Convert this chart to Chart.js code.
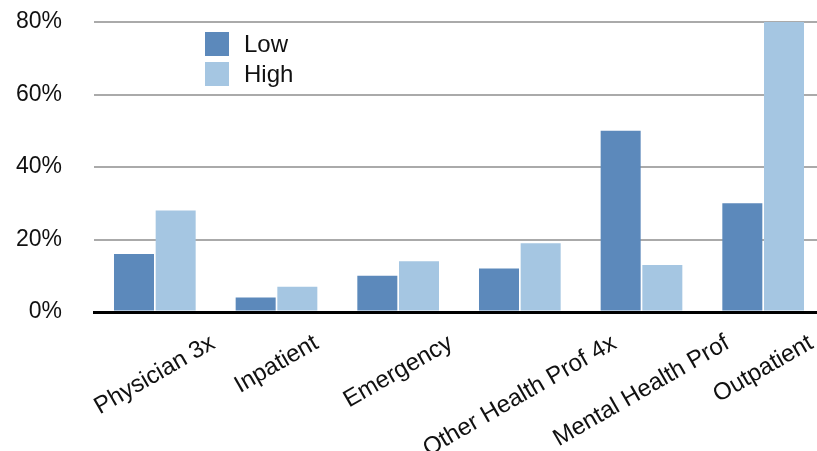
<!DOCTYPE html>
<html>
<head>
<meta charset="utf-8">
<script src="https://cdn.jsdelivr.net/npm/chart.js@4.4.0/dist/chart.umd.min.js"></script>
<style>
    html, body { margin: 0; padding: 0; background: #fff; }
    #chartContainer { width: 817px; height: 451px; }
</style>
</head>
<body>
<div id="chartContainer"><canvas id="usageChart" width="817" height="451"></canvas></div>
<script>
// chart data
const categories = ['Physician 3x', 'Inpatient', 'Emergency', 'Other Health Prof 4x', 'Mental Health Prof', 'Outpatient'];
const seriesNames = ['Low', 'High'];
const lowValues = [16, 4, 10, 12, 50, 30];
const highValues = [28, 7, 14, 19, 13, 80];
const yTickValues = [0, 20, 40, 60, 80];

const fontFamily = '"Liberation Sans", Arial, Helvetica, sans-serif';
Chart.defaults.font.family = fontFamily;
Chart.defaults.color = '#111';

// the category axis runs a little past the right edge of the canvas
const widenXAxis = {
    id: 'widenXAxis',
    afterLayout(chart) {
        const xScale = chart.scales.x;
        xScale.right = xScale.left + 730;
        xScale.width = 730;
        xScale.configure();
    }
};

// legend sits inside the plot, stacked, to the right of the y axis
const insideLegend = {
    id: 'insideLegend',
    afterDraw(chart) {
        const ctx = chart.ctx;
        const area = chart.chartArea;
        const left = area.left + 111;
        const top = area.top + 10;
        ctx.save();
        ctx.font = '24px ' + fontFamily;
        ctx.textBaseline = 'middle';
        chart.data.datasets.forEach((ds, i) => {
            const y = top + i * 30;
            ctx.fillStyle = ds.backgroundColor;
            ctx.fillRect(left, y, 24, 24);
            ctx.fillStyle = '#111';
            ctx.fillText(ds.label, left + 39, y + 13);
        });
        ctx.restore();
    }
};

// category labels, slanted and centred under each group
const slantedLabels = {
    id: 'slantedLabels',
    afterDraw(chart) {
        const ctx = chart.ctx;
        const xScale = chart.scales.x;
        const angle = 30 * Math.PI / 180;
        const size = 24;
        const labelTop = xScale.top + 19;
        ctx.save();
        ctx.font = size + 'px ' + fontFamily;
        ctx.fillStyle = '#111';
        ctx.textAlign = 'center';
        ctx.textBaseline = 'middle';
        chart.data.labels.forEach((label, i) => {
            const w = ctx.measureText(label).width;
            const x = xScale.getPixelForTick(i);
            const y = labelTop + (w * Math.sin(angle) + size * Math.cos(angle)) / 2;
            ctx.save();
            ctx.translate(x, y);
            ctx.rotate(-angle);
            ctx.fillText(label, 0, 0);
            ctx.restore();
        });
        ctx.restore();
    }
};

const ctx = document.getElementById('usageChart').getContext('2d');
new Chart(ctx, {
    type: 'bar',
    data: {
        labels: categories,
        datasets: [{
            label: seriesNames[0],
            data: lowValues,
            backgroundColor: '#5c89bb',
            borderWidth: 0,
            categoryPercentage: 0.685,
            barPercentage: 0.96
        }, {
            label: seriesNames[1],
            data: highValues,
            backgroundColor: '#a5c6e2',
            borderWidth: 0,
            categoryPercentage: 0.685,
            barPercentage: 0.96
        }]
    },
    options: {
        responsive: false,
        animation: false,
        layout: {
            padding: { top: 22, right: 0, bottom: 139, left: 0 }
        },
        plugins: {
            tooltip: { enabled: false },
            legend: { display: false }
        },
        scales: {
            x: {
                z: 1,
                grid: { display: false, drawTicks: false },
                border: { display: true, color: '#000', width: 3 },
                ticks: { display: false }
            },
            y: {
                min: 0,
                max: 80,
                afterBuildTicks(scale) {
                    scale.ticks = yTickValues.map(v => ({ value: v }));
                },
                afterFit(scale) {
                    // tick padding is only wanted horizontally
                    scale.width = 94;
                    scale.paddingTop = 12;
                    scale.paddingBottom = 12;
                },
                grid: {
                    drawTicks: false,
                    color: c => c.tick && c.tick.value === 0 ? '#000' : '#aaaaaa',
                    lineWidth: c => c.tick && c.tick.value === 0 ? 3 : 2
                },
                border: { display: false },
                ticks: {
                    padding: 32,
                    color: '#111',
                    font: { size: 23 },
                    callback: v => v + '%'
                }
            }
        }
    },
    plugins: [widenXAxis, insideLegend, slantedLabels]
});
</script>
</body>
</html>
